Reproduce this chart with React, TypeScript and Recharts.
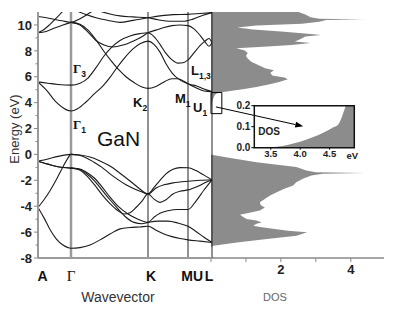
import React from "react";
import {
  Area,
  AreaChart,
  Label,
  Line,
  LineChart,
  ReferenceArea,
  ReferenceDot,
  ReferenceLine,
  XAxis,
  YAxis,
} from "recharts";

// high-symmetry points along the path (k in path units)
const kPoints = [0, 33, 110, 150, 161, 174];
const kLabels = ["A", "Γ", "K", "M", "U", "L"];
const energyTicks = [-8, -7, -6, -5, -4, -3, -2, -1, 0, 1, 2, 3, 4, 5, 6, 7, 8, 9, 10];

// conduction bands [k, E]
const cb1 = [[0, 5.6], [8, 5.0], [18, 4.05], [28, 3.46], [33, 3.35], [40, 3.55], [48, 4.05], [56, 4.65], [65, 5.3], [72, 5.95], [78, 6.6], [86, 7.4], [95, 8.15], [102, 8.55], [110, 8.75], [116, 8.5], [122, 7.9], [128, 7.0], [134, 6.3], [140, 5.85], [146, 5.6], [150, 5.45], [158, 5.15], [166, 4.9], [174, 4.85]];
const cb2 = [[0, 5.6], [10, 5.5], [20, 5.4], [33, 5.35], [42, 5.5], [50, 5.9], [58, 6.7], [66, 7.6], [74, 8.3], [82, 8.8], [92, 9.15], [102, 9.33], [110, 9.4], [116, 9.1], [122, 8.5], [128, 7.8], [134, 7.3], [140, 7.05], [146, 7.1], [150, 7.3], [156, 7.85], [162, 8.4], [167, 8.75], [171, 8.95], [174, 8.6]];
const cb3 = [[33, 10.2], [42, 10.0], [50, 9.45], [58, 8.8], [66, 8.45], [75, 8.3], [85, 8.45], [95, 8.75], [103, 9.05], [110, 9.4], [118, 9.6], [126, 9.8], [134, 9.95], [142, 10.0], [150, 9.95], [156, 9.7], [162, 9.2], [167, 8.7], [171, 8.35], [174, 8.6]];
const cb4 = [[33, 10.2], [42, 10.05], [50, 9.6], [58, 8.85], [66, 7.95], [74, 7.15], [80, 6.6], [88, 6.0], [96, 5.55], [104, 5.2], [110, 5.1], [118, 5.25], [126, 5.6], [134, 5.85], [140, 5.85], [146, 5.65], [150, 5.45], [158, 5.3], [166, 5.05], [174, 4.85]];
const cb5 = [[0, 9.4], [8, 9.5], [16, 9.75], [25, 10.0], [33, 10.2]];
const cb6 = [[0, 9.4], [6, 9.65], [12, 10.05], [18, 10.5], [24, 11.0], [28, 11.4]];
const cb7 = [[0, 10.65], [12, 10.5], [24, 10.32], [33, 10.2], [40, 10.4], [48, 10.75], [55, 11.1]];
const cb8 = [[38, 11.1], [48, 10.8], [58, 10.55], [70, 10.35], [82, 10.2], [95, 10.35], [110, 10.55], [122, 10.7], [135, 10.8], [150, 10.82], [162, 10.88], [174, 10.95]];
const cb9 = [[60, 11.1], [72, 10.85], [82, 10.7], [95, 10.62], [110, 10.55], [120, 10.4], [132, 10.28], [145, 10.28], [155, 10.45], [165, 10.75], [174, 10.95]];

// valence bands [k, E]
const vb1 = [[0, -0.52], [10, -0.35], [20, -0.15], [33, 0], [42, -0.05], [52, -0.2], [62, -0.5], [72, -0.9], [82, -1.45], [92, -2.05], [100, -2.55], [110, -3.05], [116, -2.55], [122, -2.0], [128, -1.5], [135, -1.15], [142, -1.02], [150, -1.03], [158, -1.25], [166, -1.6], [174, -1.96]];
const vb2 = [[0, -0.52], [10, -0.75], [20, -0.95], [33, -1.06], [40, -1.1], [48, -1.35], [56, -1.8], [64, -2.5], [72, -3.3], [80, -4.0], [90, -4.6], [100, -5.0], [110, -5.25], [116, -4.85], [122, -4.55], [130, -4.35], [140, -4.25], [150, -4.25], [158, -3.6], [166, -2.75], [174, -1.96]];
const vb3 = [[0, -0.52], [10, -0.75], [20, -0.95], [33, -1.06], [40, -1.15], [48, -1.6], [56, -2.3], [64, -3.1], [72, -3.8], [80, -4.35], [86, -4.6], [92, -4.5], [98, -4.1], [104, -3.6], [110, -3.05], [116, -3.45], [122, -3.7], [128, -3.5], [135, -3.05], [142, -2.85], [150, -2.74], [160, -2.45], [168, -2.15], [174, -1.96]];
const vb4 = [[0, -4.1], [6, -3.5], [12, -2.8], [18, -2.0], [24, -1.1], [29, -0.4], [33, 0], [40, -0.05], [48, -0.25], [56, -0.6], [64, -1.0], [72, -1.5], [80, -1.95], [88, -2.35], [96, -2.65], [104, -2.9], [110, -3.05], [118, -2.6], [126, -2.35], [135, -2.2], [150, -2.07], [162, -2.0], [174, -1.96]];
const vb5 = [[0, -4.1], [6, -4.9], [12, -5.8], [18, -6.5], [25, -7.0], [33, -7.25], [42, -7.2], [52, -7.0], [62, -6.6], [72, -6.15], [82, -5.75], [92, -5.65], [102, -5.6], [110, -5.55], [118, -5.85], [126, -6.15], [134, -6.35], [142, -6.5], [150, -6.6], [162, -6.7], [174, -6.8]];
const vb6 = [[33, -1.06], [40, -1.12], [48, -1.45], [56, -2.0], [64, -2.75], [72, -3.5], [80, -4.2], [88, -4.85], [96, -5.25], [104, -5.35], [110, -5.25], [120, -5.15], [130, -5.15], [140, -5.3], [150, -5.55], [158, -5.95], [166, -6.4], [174, -6.8]];

const bands = [cb1, cb2, cb3, cb4, cb5, cb6, cb7, cb8, cb9, vb1, vb2, vb3, vb4, vb5, vb6];

// density of states [E, DOS]
const dosValence = [[-8, 0], [-7.15, 0], [-7.05, 0.07], [-6.8, 0.74], [-6.54, 1.6], [-6.28, 2.45], [-6.02, 2.75], [-5.9, 2.2], [-5.77, 1.88], [-5.6, 1.4], [-5.5, 1.21], [-5.35, 1.3], [-5.25, 1.45], [-5.1, 1.3], [-4.99, 1.02], [-4.8, 0.9], [-4.65, 0.83], [-4.5, 1.1], [-4.34, 1.4], [-4.1, 1.54], [-3.9, 1.42], [-3.7, 1.4], [-3.44, 1.54], [-3.18, 1.69], [-2.92, 1.88], [-2.66, 2.1], [-2.4, 2.35], [-2.14, 2.44], [-1.88, 2.63], [-1.63, 2.87], [-1.5, 3.2], [-1.43, 4.4], [-1.37, 3.0], [-1.24, 2.73], [-0.98, 2.44], [-0.6, 1.3], [-0.3, 0.6], [-0.05, 0.05], [0, 0]];
const dosConduction = [[3.3, 0], [3.45, 0], [3.7, 0.01], [4.0, 0.03], [4.3, 0.06], [4.55, 0.1], [4.7, 0.16], [4.8, 0.3], [4.9, 0.55], [5.05, 0.95], [5.2, 1.3], [5.4, 1.65], [5.6, 1.95], [5.8, 2.2], [5.95, 2.1], [6.1, 1.75], [6.3, 1.7], [6.5, 1.8], [6.65, 1.55], [6.9, 1.35], [7.15, 1.15], [7.4, 1.05], [7.6, 1.0], [7.85, 1.05], [8.05, 0.95], [8.2, 0.72], [8.32, 1.5], [8.45, 2.3], [8.6, 2.85], [8.72, 2.4], [8.9, 2.55], [9.1, 2.7], [9.22, 3.15], [9.35, 2.6], [9.5, 2.0], [9.65, 1.2], [9.8, 0.75], [9.95, 1.3], [10.1, 2.6], [10.25, 3.1], [10.38, 3.3], [10.42, 4.4], [10.47, 3.1], [10.6, 2.85], [10.8, 2.7], [11, 2.5]];

// inset: band-edge DOS
const insetE = [3.22, 3.45, 3.6, 3.8, 4.0, 4.2, 4.4, 4.55, 4.65, 4.7, 4.75, 4.8, 4.92];
const insetD = [0, 0, 0.004, 0.014, 0.028, 0.048, 0.072, 0.095, 0.112, 0.14, 0.18, 0.22, 0.32];

// symmetry labels: [k, E, symbol, subscript]
const symLabels = [
  [35, 6.28, "Γ", "3"],
  [35, 1.94, "Γ", "1"],
  [95, 3.64, "K", "2"],
  [137, 3.95, "M", "1"],
  [155, 3.26, "U", "1"],
  [153, 6.12, "L", "1,3"],
];

const SANS = "'Liberation Sans', Arial, sans-serif";
const SERIF = "'Liberation Serif', 'Times New Roman', serif";
const GREY = "#8c8c8c";

const bandData = bands.map((b) => b.map(([k, e]) => ({ k, e })));
const dosData = [...dosValence, ...dosConduction].map(([e, d]) => ({ e, d }));
const insetData = insetE.map((e, i) => ({ e, d: insetD[i] }));

function EnergyTick(props: any) {
  const { x, y, payload } = props;
  const v = payload.value;
  const major = Math.abs(v) % 2 === 0;
  return (
    <g>
      <line x1={x - (major ? 4 : 2.5)} x2={x} y1={y} y2={y} stroke="#888" strokeWidth={1} />
      {major && (
        <text x={x - 6} y={y} dy="0.36em" textAnchor="end" fontSize={13} fontWeight="bold" fill="#222" fontFamily={SANS}>
          {v}
        </text>
      )}
    </g>
  );
}

function KTick(props: any) {
  const { x, y, payload } = props;
  const i = kPoints.indexOf(payload.value);
  const nudge = [4.5, 0, 3, -1, -1, -3][i] ?? 0;
  const label = kLabels[i];
  const greek = label === "Γ";
  return (
    <text
      x={x + nudge}
      y={y + 22.5}
      textAnchor="middle"
      fontSize={greek ? 15 : 14}
      fontWeight={greek ? "normal" : "bold"}
      fontFamily={greek ? SERIF : SANS}
      fill="#111"
    >
      {label}
    </text>
  );
}

function Arrow(p: any) {
  const { x1, y1, x2, y2 } = p;
  const a = Math.atan2(y2 - y1, x2 - x1);
  const bx = x2 - 8 * Math.cos(a);
  const by = y2 - 8 * Math.sin(a);
  const ox = -Math.sin(a) * 3;
  const oy = Math.cos(a) * 3;
  return (
    <g>
      <line x1={x1} y1={y1} x2={bx} y2={by} stroke="#000" strokeWidth={1} />
      <polygon points={`${x2},${y2} ${bx + ox},${by + oy} ${bx - ox},${by - oy}`} fill="#000" />
    </g>
  );
}

export default function App() {
  return (
    <div style={{ position: "absolute", left: 0, top: 0, width: 399, height: 313, background: "#fff", fontFamily: SANS }}>
      {/* DOS panel */}
      <div style={{ position: "absolute", left: 0, top: 0 }}>
        <AreaChart width={399} height={313} layout="vertical" data={dosData} margin={{ top: 12, right: 15, left: 211, bottom: 0 }}>
          <XAxis
            type="number"
            domain={[0, 4.95]}
            ticks={[0, 1, 2, 3, 4]}
            interval={0}
            tickFormatter={(v: number) => (v === 2 || v === 4 ? String(v) : "")}
            tick={{ fontSize: 13, fontWeight: "bold", fill: "#222" }}
            tickSize={4}
            tickMargin={3}
            stroke="#888"
            axisLine={{ stroke: "#888", strokeWidth: 1.5 }}
            height={55}
            allowDataOverflow
          >
            <Label
              content={(p: any) => (
                <text x={p.viewBox.x + 64} y={p.viewBox.y + 43} textAnchor="middle" fontSize={11} fill="#666" fontFamily={SANS}>
                  DOS
                </text>
              )}
            />
          </XAxis>
          <YAxis type="number" dataKey="e" domain={[-8, 11]} reversed hide width={0} allowDataOverflow />
          <Area dataKey="d" type="linear" fill={GREY} fillOpacity={1} stroke="none" isAnimationActive={false} />
          <ReferenceArea x1={0} x2={0.31} y1={3.15} y2={4.78} fill="none" stroke="#000" strokeWidth={1} ifOverflow="visible" />
          <ReferenceLine
            segment={[{ x: 0.14, y: 3.67 }, { x: 2.64, y: 2.17 }]}
            shape={Arrow}
            ifOverflow="visible"
          />
        </AreaChart>
      </div>

      {/* band structure */}
      <div style={{ position: "absolute", left: 0, top: 0 }}>
        <LineChart width={230} height={313} margin={{ top: 12, right: 18, left: 0, bottom: 0 }}>
          <XAxis
            type="number"
            dataKey="k"
            domain={[0, 174]}
            ticks={kPoints}
            interval={0}
            tick={<KTick />}
            tickSize={0}
            tickMargin={0}
            tickLine={false}
            axisLine={{ stroke: "#9a9a9a", strokeWidth: 2 }}
            height={55}
            allowDataOverflow
          >
            <Label
              content={(p: any) => (
                <text x={p.viewBox.x + p.viewBox.width / 2 - 7} y={p.viewBox.y + 44} textAnchor="middle" fontSize={14} fill="#333" fontFamily={SANS}>
                  Wavevector
                </text>
              )}
            />
          </XAxis>
          <YAxis
            type="number"
            domain={[-8, 11]}
            ticks={energyTicks}
            interval={0}
            tick={<EnergyTick />}
            tickSize={0}
            tickMargin={0}
            tickLine={false}
            axisLine={{ stroke: "#9a9a9a", strokeWidth: 2 }}
            width={38}
            allowDataOverflow
          >
            <Label
              content={() => (
                <text x={14} y={129} transform="rotate(-90 14 129)" dy="0.35em" textAnchor="middle" fontSize={13} fill="#333" fontFamily={SANS}>
                  Energy (eV)
                </text>
              )}
            />
          </YAxis>
          <ReferenceLine x={33} stroke="#9a9a9a" strokeWidth={2.5} />
          <ReferenceLine x={110} stroke="#222" strokeWidth={1} />
          <ReferenceLine x={150} stroke="#222" strokeWidth={1} />
          <ReferenceLine x={174} stroke="#222" strokeWidth={1} />
          {bandData.map((d, i) => (
            <Line
              key={i}
              data={d}
              dataKey="e"
              type="monotone"
              stroke="#1b1b1b"
              strokeWidth={1.1}
              dot={false}
              activeDot={false}
              isAnimationActive={false}
            />
          ))}
          {symLabels.map(([k, e, sym, sub], i) => (
            <ReferenceDot
              key={"s" + i}
              x={k as number}
              y={e as number}
              r={0}
              ifOverflow="visible"
              shape={(p: any) => (
                <text x={p.cx} y={p.cy} fontSize={13} fontWeight="bold" fill="#111" fontFamily={sym === "Γ" ? SERIF : SANS}>
                  {sym}
                  <tspan fontSize={8.5} dy={4} fontFamily={SANS}>
                    {sub}
                  </tspan>
                </text>
              )}
            />
          ))}
          <ReferenceDot
            x={59}
            y={0.62}
            r={0}
            ifOverflow="visible"
            shape={(p: any) => (
              <text x={p.cx} y={p.cy} fontSize={21} fill="#111" fontFamily={SANS}>
                GaN
              </text>
            )}
          />
        </LineChart>
      </div>

      {/* inset */}
      <div style={{ position: "absolute", left: 229, top: 95 }}>
        <AreaChart width={170} height={80} data={insetData} margin={{ top: 10.7, right: 44.7, left: 0, bottom: 0 }}>
          <XAxis
            type="number"
            dataKey="e"
            domain={[3.22, 4.92]}
            ticks={[3.5, 4, 4.5]}
            interval={0}
            tickFormatter={(v: number) => v.toFixed(1)}
            tick={{ fontSize: 9.5, fontWeight: "bold", fill: "#222" }}
            axisLine={false}
            tickSize={2}
            tickMargin={1}
            stroke="#000"
            height={27.3}
            allowDataOverflow
          >
            <Label
              content={(p: any) => (
                <text x={p.viewBox.x + p.viewBox.width - 2} y={p.viewBox.y + 11} textAnchor="middle" fontSize={9.5} fontWeight="bold" fill="#222" fontFamily={SANS}>
                  eV
                </text>
              )}
            />
          </XAxis>
          <YAxis
            type="number"
            domain={[0, 0.2]}
            ticks={[0, 0.1, 0.2]}
            interval={0}
            tickFormatter={(v: number) => v.toFixed(1)}
            tick={{ fontSize: 10, fontWeight: "bold", fill: "#222" }}
            axisLine={false}
            tickSize={3}
            tickMargin={1}
            stroke="#000"
            width={25.3}
            allowDataOverflow
          >
            <Label
              content={(p: any) => (
                <text x={p.viewBox.x + p.viewBox.width + 4} y={p.viewBox.y + p.viewBox.height / 2 + 8} fontSize={10} fontWeight="bold" fill="#222" fontFamily={SANS}>
                  DOS
                </text>
              )}
            />
          </YAxis>
          <Area dataKey="d" type="monotone" fill={GREY} fillOpacity={1} stroke="none" isAnimationActive={false} />
          <ReferenceArea x1={3.22} x2={4.92} y1={0} y2={0.2} fill="none" stroke="#111" strokeWidth={1.5} ifOverflow="visible" />
        </AreaChart>
      </div>
    </div>
  );
}
